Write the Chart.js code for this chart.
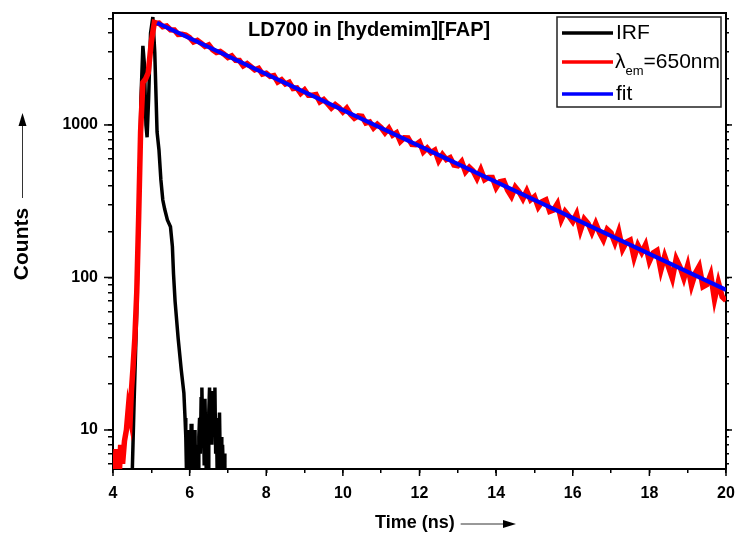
<!DOCTYPE html>
<html><head><meta charset="utf-8">
<script src="https://cdn.jsdelivr.net/npm/chart.js@4"></script>
<style>html,body{margin:0;padding:0;background:#fff}#wrap{width:739px;height:540px}</style>
</head><body><div id="wrap"><canvas id="c" width="739" height="540"></canvas></div>
<script>
const titleText = 'LD700 in [hydemim][FAP]';
const xTitle = 'Time (ns)';
const yTitle = 'Counts';
const seriesNames = ['IRF', '=650nm', 'fit'];

const irfTime = [4.49,4.55,4.62,4.68,4.73,4.78,4.82,4.86,4.89,4.93,4.98,5.04,5.09,5.15,5.2,5.25,5.3,5.35,5.42,5.5,5.55,5.58,5.62,5.7,5.78,5.85,
5.88,5.9,5.92,5.94,5.96,5.98,6.0,6.02,6.04,6.06,6.08,6.1,6.12,6.14,6.16,6.18,6.2,6.22,6.24,6.26,6.28,6.3,6.32,6.34,6.36,6.38,6.4,6.42,6.44,6.46,6.48,
6.5,6.52,6.54,6.56,6.58,6.6,6.62,6.64,6.66,6.68,6.7,6.72,6.74,6.76,6.78,6.8,6.82,6.84,6.86,6.88,6.9,6.92];
const irfCounts = [4,15,60,300,1500,3300,2500,1000,830,1500,4000,5100,3000,900,685,436,322,280,238,215,160,105,70,40,25,17.5,
12,9,5,8,4,10,6,4,11,7,4,9,5,10,4,8,5,4,9,12,7,16,19,10,14,6,16,9,4,7,4,
13,19,11,16,8,18,10,14,19,7,12,5,11,8,13,6,9,4,8,5,7,4];

const emTime = [4.0,4.05,4.08,4.1,4.17,4.2,4.25,4.3,4.35,4.4,4.45,4.48,4.52,4.57,4.62,4.67,4.72,4.78,4.85,4.92,5.0,5.08,5.15,
5.2,5.3,5.4,5.5,5.6,5.7,5.8,5.9,
6.0,6.1,6.2,6.3,6.4,6.5,6.6,6.7,6.8,6.9,
7.0,7.1,7.2,7.3,7.4,7.5,7.6,7.7,7.8,7.9,
8.0,8.1,8.2,8.3,8.4,8.5,8.6,8.7,8.8,8.9,
9.0,9.1,9.2,9.3,9.4,9.5,9.6,9.7,9.8,9.9,
10.0,10.1,10.2,10.3,10.4,10.5,10.6,10.7,10.8,10.9,
11.0,11.1,11.2,11.3,11.4,11.5,11.6,11.7,11.8,11.9,
12.0,12.1,12.2,12.3,12.4,12.5,12.6,12.7,12.8,12.9,
13.0,13.1,13.2,13.3,13.4,13.5,13.6,13.7,13.8,13.9,
14.0,14.1,14.2,14.3,14.4,14.5,14.6,14.7,14.8,14.9,
15.0,15.1,15.2,15.3,15.4,15.5,15.6,15.7,15.8,15.9,
16.0,16.1,16.2,16.3,16.4,16.5,16.6,16.7,16.8,16.9,
17.0,17.1,17.2,17.3,17.4,17.5,17.6,17.7,17.8,17.9,
18.0,18.1,18.2,18.3,18.4,18.5,18.6,18.7,18.8,18.9,
19.0,19.1,19.2,19.3,19.4,19.5,19.6,19.7,19.8,19.9,20.0];
const emCounts = [5.5,5.5,7.5,5.5,5.5,8,6,8.5,10,14,12,18,25,40,80,250,900,1900,2000,2200,3500,4700,4650,
4662,4402,4459,4212,4198,3924,3936,3885,
3741,3500,3584,3433,3271,3348,3113,2987,3031,2910,
2766,2835,2655,2645,2442,2524,2412,2300,2350,2154,
2185,2082,2106,1913,1977,1857,1906,1732,1749,1610,
1697,1564,1565,1580,1417,1467,1380,1292,1361,1302,
1216,1288,1175,1107,1147,1138,1029,1046,955,1010,
962,889,952,858,890,780,825,823,746,743,
774,667,706,659,684,582,639,594,611,546,
540,576,493,528,499,446,509,438,453,453,
388,425,430,373,340,391,364,328,370,323,
339,289,314,323,271,277,305,239,271,252,
232,261,203,242,226,197,226,196,176,207,
196,169,200,153,171,176,135,163,146,164,
127.5,145,150.5,111.4,138,117,98.5,132.7,117.3,98.6,
120,88.7,106.9,118.6,86.9,89.7,104.5,71.8,93.1,74.8,70.6];

const fitTime = [5.15, 20];
const fitCounts = [4670, 83];

const xMajorTicks = [4,6,8,10,12,14,16,18,20];
const xMinorTicks = [5,7,9,11,13,15,17,19];
const yMajorTicks = [10,100,1000];
const yMinorTicks = [6,7,8,9,20,30,40,50,60,70,80,90,200,300,400,500,600,700,800,900,2000,3000,4000,5000];

const FONT = "'Liberation Sans', Arial, sans-serif";
const toXY = (xs, ys) => xs.map((x, i) => ({x: x, y: ys[i]}));

const yAllTicks = yMinorTicks.concat(yMajorTicks).sort((a,b)=>a-b);
const xAllTicks = xMinorTicks.concat(xMajorTicks).sort((a,b)=>a-b);

const noPad = s => { s.paddingLeft = 0; s.paddingRight = 0; s.paddingTop = 0; s.paddingBottom = 0; };

const decor = {
  id: 'decor',
  afterDraw(chart) {
    const ctx = chart.ctx;
    const xs = chart.scales.x, ys = chart.scales.y;
    const a = chart.chartArea;
    ctx.save();
    ctx.strokeStyle = '#000'; ctx.lineWidth = 1.5;
    xMajorTicks.forEach(v => { const p = xs.getPixelForValue(v); ctx.beginPath(); ctx.moveTo(p, a.bottom); ctx.lineTo(p, a.bottom + 7); ctx.stroke(); });
    yMajorTicks.forEach(v => { const p = ys.getPixelForValue(v); ctx.beginPath(); ctx.moveTo(a.left, p); ctx.lineTo(a.left - 9, p); ctx.stroke(); ctx.beginPath(); ctx.moveTo(a.right, p); ctx.lineTo(a.right + 6, p); ctx.stroke(); });
    // title
    ctx.fillStyle = '#000';
    ctx.font = 'bold 20px ' + FONT;
    ctx.textAlign = 'left'; ctx.textBaseline = 'middle';
    ctx.fillText(titleText, 248, 30);
    // x axis title + arrow
    ctx.font = 'bold 18px ' + FONT;
    ctx.fillText(xTitle, 375, 523);
    const xw = ctx.measureText(xTitle).width;
    ctx.lineWidth = 1; ctx.strokeStyle = '#333';
    ctx.beginPath(); ctx.moveTo(375 + xw + 6, 524); ctx.lineTo(505, 524); ctx.stroke();
    ctx.fillStyle = '#000';
    ctx.beginPath(); ctx.moveTo(516, 524); ctx.lineTo(503, 520); ctx.lineTo(503, 528); ctx.closePath(); ctx.fill();
    // y axis title + arrow
    ctx.save();
    ctx.translate(22, 244); ctx.rotate(-Math.PI/2);
    ctx.textAlign = 'center';
    ctx.font = 'bold 21px ' + FONT;
    ctx.fillText(yTitle, 0, 0);
    ctx.restore();
    ctx.beginPath(); ctx.moveTo(22.5, 198); ctx.lineTo(22.5, 124); ctx.stroke();
    ctx.beginPath(); ctx.moveTo(22.5, 113); ctx.lineTo(18.5, 126); ctx.lineTo(26.5, 126); ctx.closePath(); ctx.fill();
    // legend
    ctx.lineWidth = 1.5; ctx.strokeStyle = '#222';
    ctx.strokeRect(557, 17, 164, 90);
    const ds = chart.data.datasets;
    const rows = [33, 62, 94];
    [0,1,2].forEach(i => {
      ctx.strokeStyle = ds[i].borderColor; ctx.lineWidth = 3.5;
      ctx.beginPath(); ctx.moveTo(562, rows[i]); ctx.lineTo(613, rows[i]); ctx.stroke();
    });
    ctx.fillStyle = '#000'; ctx.textAlign = 'left'; ctx.textBaseline = 'middle';
    ctx.font = '21px ' + FONT;
    ctx.fillText(seriesNames[0], 616, rows[0]);
    ctx.fillText(seriesNames[2], 616, rows[2]);
    ctx.fillText('\u03BB', 615, rows[1]);
    const lw = ctx.measureText('\u03BB').width;
    ctx.font = '13px ' + FONT;
    ctx.fillText('em', 615 + lw, rows[1] + 9);
    const ew = ctx.measureText('em').width;
    ctx.font = '21px ' + FONT;
    ctx.fillText(seriesNames[1], 615 + lw + ew, rows[1]);
    ctx.restore();
  }
};

new Chart(document.getElementById('c'), {
  type: 'scatter',
  data: {
    datasets: [
      { label: 'IRF', data: toXY(irfTime, irfCounts), borderColor: '#000000', borderWidth: 3.5, showLine: true, pointRadius: 0, order: 2, tension: 0 },
      { label: 'em', data: toXY(emTime, emCounts), borderColor: '#ff0000', borderWidth: 5.5, showLine: true, pointRadius: 0, order: 1, tension: 0 },
      { label: 'fit', data: toXY(fitTime, fitCounts), borderColor: '#0000ff', borderWidth: 4, showLine: true, pointRadius: 0, order: 0, tension: 0 }
    ]
  },
  options: {
    responsive: false, animation: false, devicePixelRatio: 1,
    layout: { padding: { top: 13, right: 13, left: 0, bottom: 0 } },
    plugins: { legend: { display: false }, tooltip: { enabled: false } },
    scales: {
      x: {
        type: 'linear', position: 'bottom', min: 4, max: 20,
        afterBuildTicks: s => { s.ticks = xAllTicks.map(v => ({value: v})); },
        afterFit: s => { s.height = 71; noPad(s); },
        ticks: { autoSkip: false, maxRotation: 0, color: '#000', padding: 11, font: { family: FONT, size: 16, weight: 'bold' },
                 callback: v => (xMajorTicks.includes(v) ? String(v) : '') },
        grid: { drawOnChartArea: false, drawTicks: true, tickLength: 4, color: '#000', lineWidth: 1.5 },
        border: { color: '#000', width: 2 }
      },
      x2: {
        type: 'linear', position: 'top', min: 4, max: 20,
        afterFit: s => { s.height = 0; noPad(s); },
        ticks: { display: false }, grid: { display: false },
        border: { color: '#000', width: 2 }
      },
      y: {
        type: 'logarithmic', position: 'left', min: 5.55, max: 5420,
        afterBuildTicks: s => { s.ticks = yAllTicks.map(v => ({value: v})); },
        afterFit: s => { s.width = 113; noPad(s); },
        ticks: { autoSkip: false, color: '#000', padding: 10, font: { family: FONT, size: 16, weight: 'bold' },
                 callback: v => (yMajorTicks.includes(v) ? String(v) : '') },
        grid: { drawOnChartArea: false, drawTicks: true, tickLength: 5, color: '#000', lineWidth: 1.5 },
        border: { color: '#000', width: 2 }
      },
      y2: {
        type: 'logarithmic', position: 'right', min: 5.55, max: 5420,
        afterBuildTicks: s => { s.ticks = yAllTicks.map(v => ({value: v})); },
        afterFit: s => { s.width = 0; noPad(s); },
        ticks: { display: false },
        grid: { drawOnChartArea: false, drawTicks: true, tickLength: 3, color: '#000', lineWidth: 1.5 },
        border: { color: '#000', width: 2 }
      }
    }
  },
  plugins: [decor]
});
</script></body></html>
